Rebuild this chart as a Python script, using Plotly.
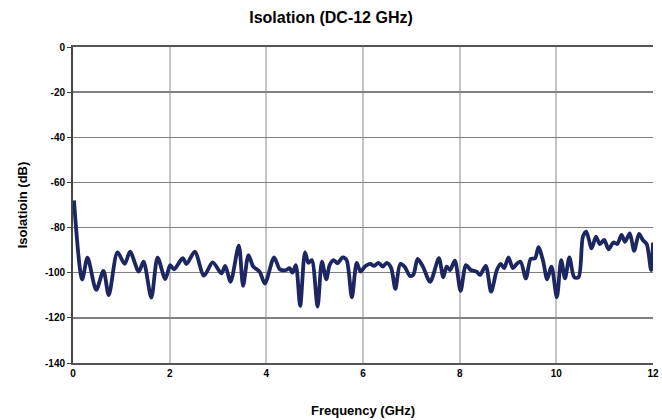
import plotly.graph_objects as go

freq_ghz = [0.02, 0.19, 0.30, 0.48, 0.63, 0.74, 0.92, 1.07, 1.18, 1.36, 1.46, 1.62, 1.75, 1.91,
            2.01, 2.09, 2.27, 2.35, 2.52, 2.71, 2.89, 3.07, 3.15, 3.26, 3.43, 3.52, 3.63, 3.73,
            3.86, 3.97, 4.16, 4.28, 4.41, 4.48, 4.54, 4.61, 4.70, 4.80, 4.87, 4.94, 5.06, 5.15,
            5.24, 5.31, 5.39, 5.47, 5.58, 5.66, 5.77, 5.87, 5.95, 6.04, 6.15, 6.23, 6.32, 6.41,
            6.49, 6.58, 6.67, 6.77, 6.86, 6.97, 7.04, 7.13, 7.24, 7.39, 7.57, 7.66, 7.73, 7.80,
            7.90, 8.02, 8.13, 8.23, 8.35, 8.42, 8.54, 8.65, 8.77, 8.85, 8.92, 9.01, 9.10, 9.18,
            9.26, 9.37, 9.47, 9.56, 9.63, 9.73, 9.81, 9.90, 10.01, 10.10, 10.18, 10.27, 10.37,
            10.46, 10.55, 10.62, 10.73, 10.82, 10.90, 10.99, 11.08, 11.18, 11.26, 11.35, 11.42,
            11.52, 11.61, 11.71, 11.79, 11.87, 11.96, 12.0]
isolation_db = [-68, -103, -93.3, -107.6, -99.2, -109.9, -91, -96.1, -90.7, -99.5, -95.1, -111, -93.3, -102.8,
                -96.6, -98.5, -93.6, -96.1, -90.7, -101.3, -95.4, -100.3, -97, -104, -88, -105.8, -92.2, -97.3,
                -99.5, -104.8, -93.2, -98.5, -98.8, -98, -100, -96.6, -114.7, -91, -95.6, -94.4, -115, -95.1,
                -102.9, -96.6, -94.4, -95.8, -93.2, -94.4, -110.9, -95.6, -99.5, -97.3, -96.1, -97, -95.6, -97.3,
                -95.6, -97.7, -107.2, -96.1, -97.3, -101.4, -101, -93.9, -97.3, -104, -93.6, -102, -97.3, -98.8,
                -94.7, -108, -96.6, -98.8, -99.5, -101, -97, -108.4, -98.8, -96.1, -98, -93.2, -98, -96.1,
                -95.1, -102.5, -93.9, -93.6, -88.7, -95.1, -102.9, -97.3, -110.9, -94.4, -102.5, -93.2, -102,
                -102, -84, -81.8, -89.2, -84, -87.3, -85.5, -89.6, -86.6, -87.3, -83.3, -86.3,
                -82.6, -90.3, -82.8, -85.5, -87.3, -98.8, -86.6]

x_ticks = [0, 2, 4, 6, 8, 10, 12]
x_labels = ["0", "2", "4", "6", "8", "10", "12"]
y_ticks = [0, -20, -40, -60, -80, -100, -120, -140]
y_labels = ["0", "-20", "-40", "-60", "-80", "-100", "-120", "-140"]

font_family = "Liberation Sans, Arial, sans-serif"

fig = go.Figure()
fig.add_trace(go.Scatter(
    x=freq_ghz, y=isolation_db, mode="lines",
    line=dict(color="#1c2660", width=3.8, shape="spline", smoothing=0.8),
    showlegend=False, hoverinfo="skip",
))

fig.update_layout(
    width=662, height=420,
    margin=dict(l=73, r=9, t=47, b=57, autoexpand=False),
    paper_bgcolor="white", plot_bgcolor="white",
    font=dict(family=font_family, color="black"),
    title=dict(text="<b>Isolation (DC-12 GHz)</b>", x=0.5, xanchor="center",
               y=1 - 17 / 420, yanchor="middle", font=dict(size=16, family=font_family)),
)

fig.update_xaxes(
    range=[0, 12], tickvals=x_ticks, ticktext=[f"<b>{t}</b>" for t in x_labels],
    tickfont=dict(size=10), showgrid=True, gridcolor="#c4c4c4", gridwidth=2,
    showline=True, mirror=True, linecolor="#555555", linewidth=2, zeroline=False,
    ticks="", ticklen=0, automargin=False,
    title=dict(text="<b>Frequency (GHz)</b>", font=dict(size=13), standoff=28),
)
fig.update_yaxes(
    range=[-140, 0], tickvals=y_ticks, ticktext=[f"<b>{t}</b>" for t in y_labels],
    tickfont=dict(size=10), showgrid=True, gridcolor="#808080", gridwidth=1.4,
    showline=True, linecolor="#444444", linewidth=2, zeroline=False,
    ticks="outside", ticklen=4, tickcolor="#444444", automargin=False,
    title=dict(text="<b>Isolatioin (dB)</b>", font=dict(size=13), standoff=14),
)

fig.write_html("out.html", config={"displayModeBar": False, "staticPlot": True},
               post_script="document.body.style.margin='0';document.body.style.overflow='hidden';")
